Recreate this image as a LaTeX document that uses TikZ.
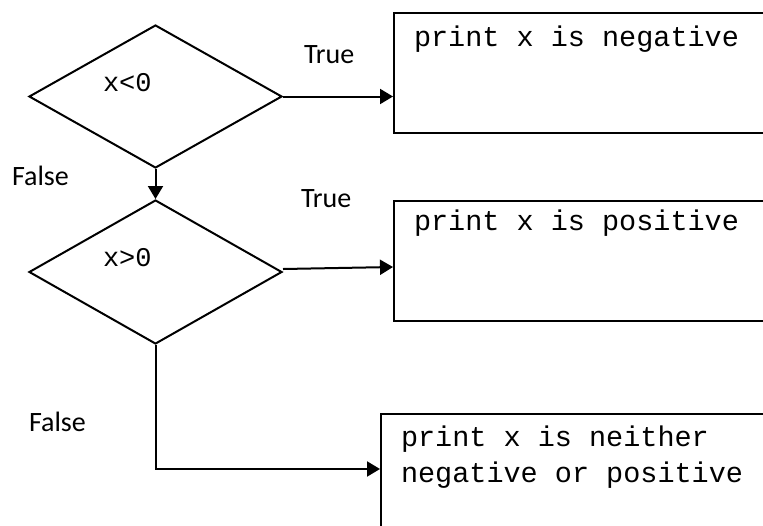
\documentclass[tikz,border=0pt]{standalone}
\usepackage{fontspec}
\setmainfont{Carlito}
\newfontfamily\codefont{Liberation Mono}
\usetikzlibrary{shapes.geometric,arrows.meta,calc}
\begin{document}
\begin{tikzpicture}[x=0.5pt,y=-0.5pt,
  line width=1pt,
  arr/.style={-{Triangle[length=6.5pt,width=7.5pt]}},
  decision/.style={diamond,draw,inner sep=0pt,minimum width=126.5pt,minimum height=71.5pt},
  procbox/.style={rectangle,draw,inner sep=0pt,anchor=north west},
  codetxt/.style={inner sep=0pt,anchor=base west,align=left,font=\codefont\fontsize{14.25}{18}\selectfont},
  condtxt/.style={inner sep=0pt,anchor=base west,font=\codefont\fontsize{13.5}{16}\selectfont},
  lbl/.style={inner sep=0pt,anchor=base west,font=\fontsize{14}{16}\selectfont}]
\path[use as bounding box,clip] (0,0) rectangle (763,525);
% decisions
\node[decision] (d1) at (155.5,96.5) {};
\node[condtxt] (t1) at (102,91) {x<0};
\node[decision,minimum height=72pt] (d2) at (155.5,272) {};
\node[condtxt] (t2) at (102,266) {x>0};
% boxes
\node[procbox,minimum width=210pt,minimum height=60pt] (b1) at (393,12) {};
\node[codetxt] (p1) at (413,46) {print x is negative};
\node[procbox,minimum width=210pt,minimum height=60pt] (b2) at (393,200) {};
\node[codetxt] (p2) at (413,230) {print x is positive};
\node[procbox,minimum width=215pt,minimum height=75pt] (b3) at (380,413) {};
\node[codetxt] (p3) at (400,482) {print x is neither\\negative or positive};
% labels
\node[lbl] (l1) at (303,63) {True};
\node[lbl] (l2) at (11,185) {False};
\node[lbl] (l3) at (300,207) {True};
\node[lbl] (l4) at (28,431) {False};
% connectors
\draw[arr] (d1.east) -- (d1.east -| b1.west);
\draw[arr] (d1.south) -- (d2.north);
\draw[arr] ([yshift=1.5pt]d2.east) -- ([yshift=-3pt]b2.west);
\draw[arr] (d2.south) |- ([yshift=-28pt]b3.north west);
\end{tikzpicture}
\end{document}
